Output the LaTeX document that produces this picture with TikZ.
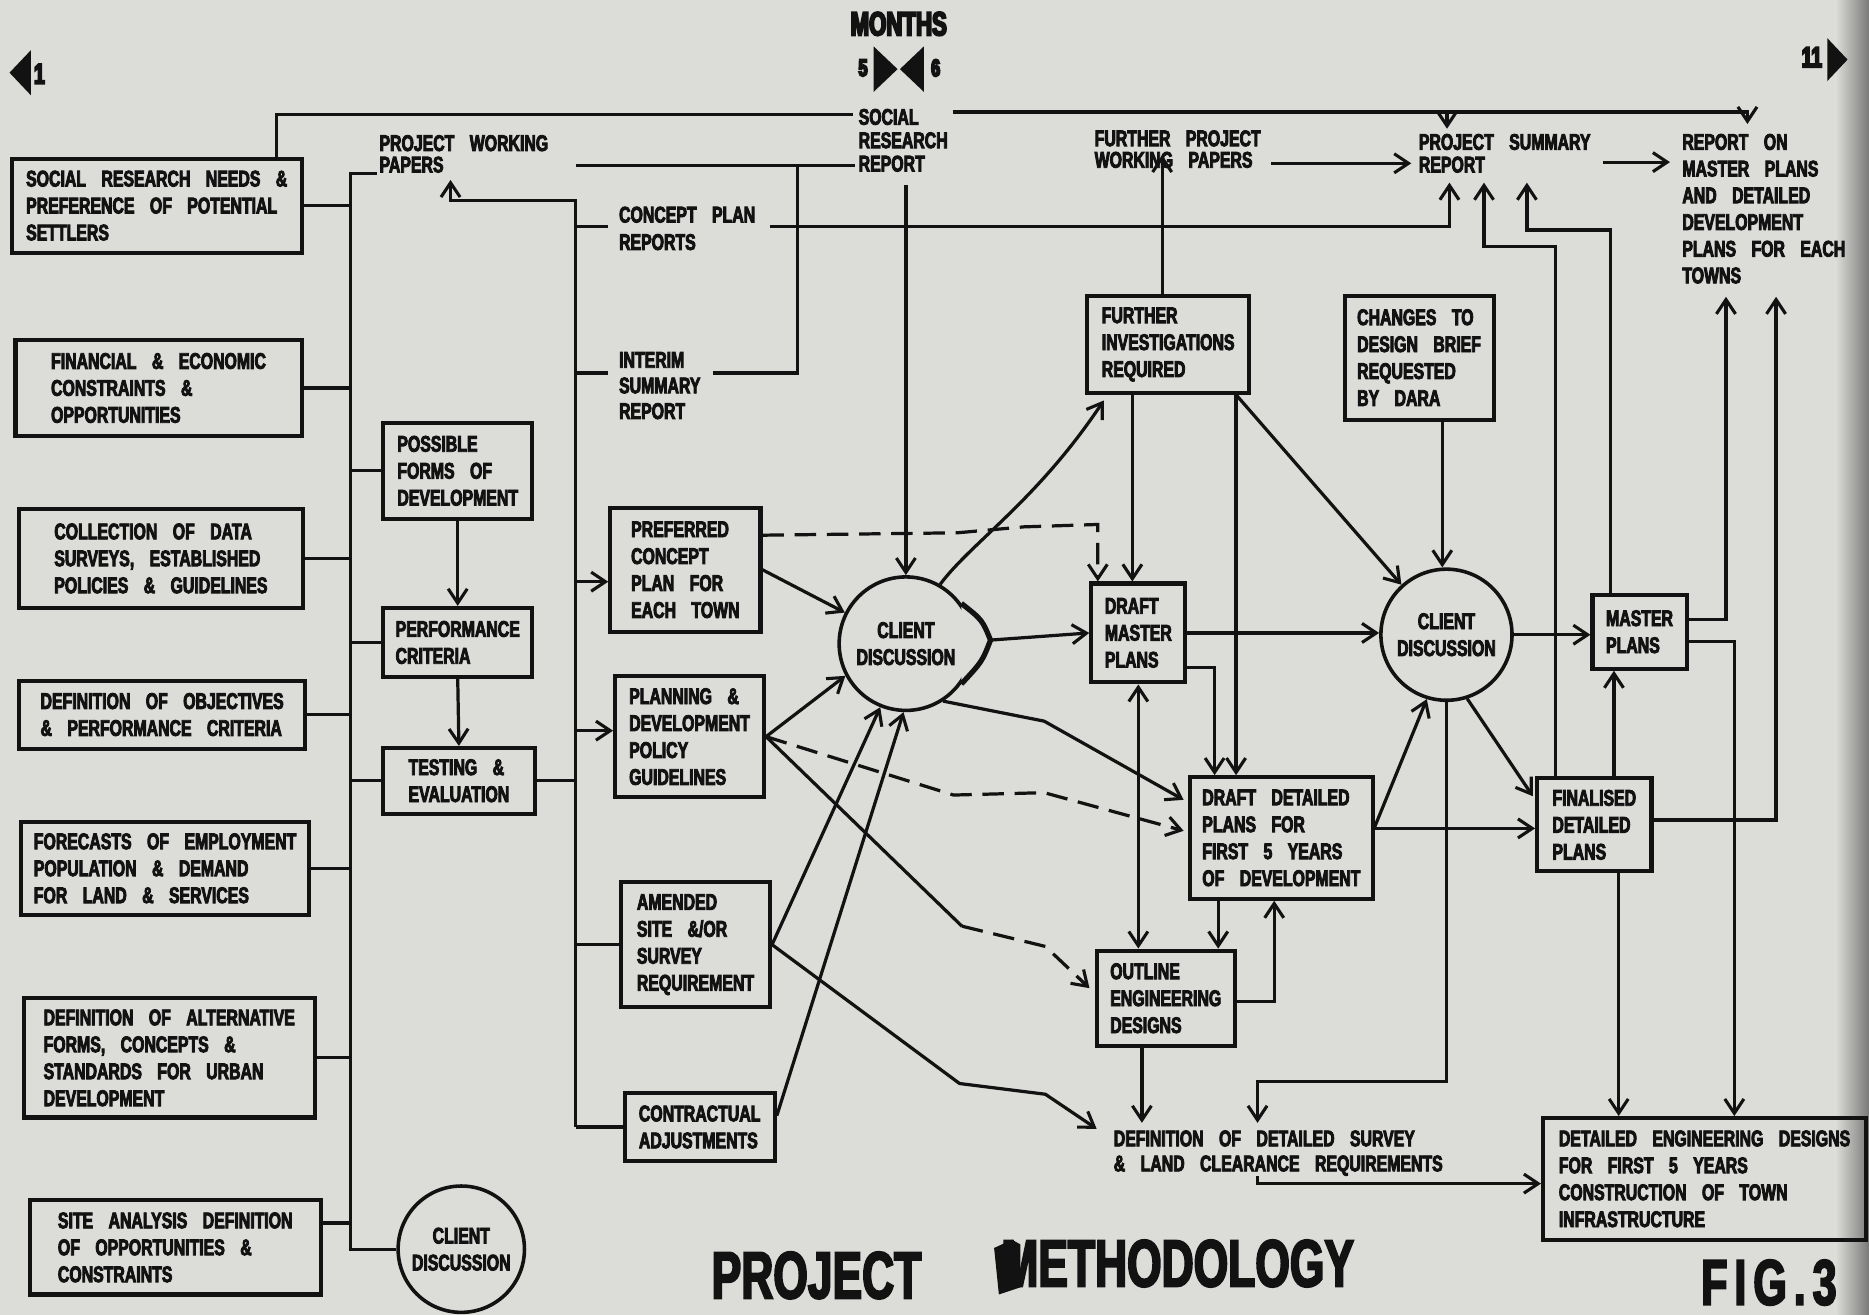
\documentclass[tikz,border=0pt]{standalone}
\usepackage{fontspec}
\usetikzlibrary{arrows.meta}
\newfontfamily\dfont{Liberation Sans Bold}[FakeStretch=0.7, WordSpace=3.5]
\newfontfamily\tfont{Liberation Sans Bold}[FakeStretch=0.665]
\newfontfamily\ffont{Liberation Sans Bold}[FakeStretch=0.665, LetterSpace=11]
\definecolor{paper}{RGB}{220,220,217}
\definecolor{ink}{RGB}{18,18,18}
\newcommand\heavyon[1]{\special{pdf:literal direct 2 Tr #1 w}}
\newcommand\heavyoff{\special{pdf:literal direct 0 Tr}}
\newcommand\mkbox[6]{\node[pbox, minimum width=#4*0.5pt, minimum height=#5*0.5pt] (#1) at (#2,#3) {#6};}
\newcommand\hv[1]{\heavyon{0.35}#1\heavyoff}
\newcommand\hvt[1]{\heavyon{0.8}#1\heavyoff}
\begin{document}
\begin{tikzpicture}[x=0.5pt,y=-0.5pt,
  txt/.style={font=\dfont\fontsize{9.5}{11.3}\selectfont, text=ink},
  pbox/.style={txt, draw=ink, line width=1.7pt, align=left, inner sep=0pt, rectangle},
  lbl/.style={txt, align=left, inner sep=0pt, anchor=north west, font=\dfont\fontsize{9.5}{#1}\selectfont},
  lbl/.default=11.3,
  circ/.style={txt, draw=ink, line width=1.5pt, circle, align=center, inner sep=0pt},
  ln/.style={draw=ink, line width=1.35pt},
  arr/.style={ln, -{Straight Barb[length=6pt,width=8pt,line width=1.3pt]}},
  dbl/.style={ln, {Straight Barb[length=6pt,width=8pt,line width=1.3pt]}-{Straight Barb[length=6pt,width=8pt,line width=1.3pt]}},
  dsh/.style={dash pattern=on 9pt off 4.5pt},
  ttl/.style={font=\tfont\fontsize{#1}{#1}\selectfont, text=ink, inner sep=0pt},
]
\fill[paper] (0,0) rectangle (1568,1103);
\shade[left color=paper, right color=paper!55!black] (1540,0) rectangle (1568,1103);
\useasboundingbox (0,0) rectangle (1568,1103);

% ---------- headings ----------
\node[ttl=14] (months) at (754,20) {\hvt{MONTHS}};
\node[ttl=10] (five) at (724,57) {\hvt{5}};
\node[ttl=10] (six) at (785,57) {\hvt{6}};
\fill[ink] (733,39) -- (753,58) -- (733,77) -- cycle;
\fill[ink] (775,39) -- (755,58) -- (775,77) -- cycle;
\fill[ink] (8,61) -- (26,42) -- (26,80) -- cycle;
\node[ttl=12] (one) at (33,62) {\hvt{1}};
\node[ttl=12] (eleven) at (1520,48) {\hvt{11}};
\fill[ink] (1533,32) -- (1550,50) -- (1533,68) -- cycle;
\node[ttl=28] (ttlA) at (685,1070) {\hvt{PROJECT}};
\node[ttl=28] (ttlB) at (988,1060) {\hvt{METHODOLOGY}};
\fill[ink] (834,1047) -- (849,1040) -- (856,1044) -- (856,1080) -- (838,1086) -- cycle;
\node[font=\ffont\fontsize{27}{27}\selectfont, text=ink, inner sep=0pt] (fig) at (1484,1076) {\hvt{FIG.3}};

% ---------- left column ----------
\mkbox{b1}{131.5}{172.5}{243}{79}{\hv{SOCIAL RESEARCH NEEDS \&}\\\hv{PREFERENCE OF POTENTIAL}\\\hv{SETTLERS}}
\mkbox{b2}{133}{325.5}{240}{81}{\hv{FINANCIAL \& ECONOMIC}\\\hv{CONSTRAINTS \&}\\\hv{OPPORTUNITIES}}
\mkbox{b3}{135}{468.5}{238}{83}{\hv{COLLECTION OF DATA}\\\hv{SURVEYS, ESTABLISHED}\\\hv{POLICIES \& GUIDELINES}}
\mkbox{b4}{136}{599.5}{240}{57}{\hv{DEFINITION OF OBJECTIVES}\\\hv{\& PERFORMANCE CRITERIA}}
\mkbox{b5}{138.5}{728.5}{241}{78}{\hv{FORECASTS OF EMPLOYMENT}\\\hv{POPULATION \& DEMAND}\\\hv{FOR LAND \& SERVICES}}
\mkbox{b6}{142}{887.5}{244}{100}{\hv{DEFINITION OF ALTERNATIVE}\\\hv{FORMS, CONCEPTS \&}\\\hv{STANDARDS FOR URBAN}\\\hv{DEVELOPMENT}}
\mkbox{b7}{147}{1046.5}{244}{79}{\hv{SITE ANALYSIS DEFINITION}\\\hv{OF OPPORTUNITIES \&}\\\hv{CONSTRAINTS}}
\node[circ, minimum size=53pt] (c0) at (387,1048) {\hv{CLIENT}\\\hv{DISCUSSION}};

% ---------- second column ----------
\mkbox{m1}{384}{395}{125}{81}{\hv{POSSIBLE}\\\hv{FORMS OF}\\\hv{DEVELOPMENT}}
\mkbox{m2}{384}{539}{125}{58}{\hv{PERFORMANCE}\\\hv{CRITERIA}}
\mkbox{m3}{385}{655}{127}{55}{\hv{TESTING \&}\\\hv{EVALUATION}}
\node[lbl=9] (pwp) at (318,113) {\hv{PROJECT WORKING}\\\hv{PAPERS}};

% ---------- third column ----------
\node[lbl=11.5] (cpr) at (519,173) {\hv{CONCEPT PLAN}\\\hv{REPORTS}};
\node[lbl=10.75] (isr) at (519,295) {\hv{INTERIM}\\\hv{SUMMARY}\\\hv{REPORT}};
\mkbox{r1}{575}{478}{126}{104}{\hv{PREFERRED}\\\hv{CONCEPT}\\\hv{PLAN FOR}\\\hv{EACH TOWN}}
\mkbox{r2}{578.5}{618}{125}{102}{\hv{PLANNING \&}\\\hv{DEVELOPMENT}\\\hv{POLICY}\\\hv{GUIDELINES}}
\mkbox{r3}{583.5}{792.5}{125}{105}{\hv{AMENDED}\\\hv{SITE \&/OR}\\\hv{SURVEY}\\\hv{REQUIREMENT}}
\mkbox{r4}{587}{945.5}{126}{57}{\hv{CONTRACTUAL}\\\hv{ADJUSTMENTS}}
\node[lbl=9.8] (srr) at (720,91) {\hv{SOCIAL}\\\hv{RESEARCH}\\\hv{REPORT}};
\node[circ, minimum size=56pt] (c1) at (760,540) {\hv{CLIENT}\\\hv{DISCUSSION}};
\coordinate (bulge) at (831,537);
\fill[paper] (c1.36) .. controls (824,520) .. (bulge) .. controls (824,555) .. (c1.-36) -- cycle;
\draw[ink, line width=2.2pt] (c1.36) .. controls (824,520) .. (bulge) .. controls (824,555) .. (c1.-36);

% ---------- right part ----------
\node[lbl=9] (fpwp) at (918,109) {\hv{FURTHER PROJECT}\\\hv{WORKING PAPERS}};
\node[lbl=9.5] (psr) at (1190,112) {\hv{PROJECT SUMMARY}\\\hv{REPORT}};
\node[lbl=11.2] (rom) at (1411,112) {\hv{REPORT ON}\\\hv{MASTER PLANS}\\\hv{AND DETAILED}\\\hv{DEVELOPMENT}\\\hv{PLANS FOR EACH}\\\hv{TOWNS}};
\mkbox{f1}{980}{289}{136}{81}{\hv{FURTHER}\\\hv{INVESTIGATIONS}\\\hv{REQUIRED}}
\mkbox{f2}{1190.5}{300}{125}{104}{\hv{CHANGES TO}\\\hv{DESIGN BRIEF}\\\hv{REQUESTED}\\\hv{BY DARA}}
\mkbox{dm}{955}{531}{79}{83}{\hv{DRAFT}\\\hv{MASTER}\\\hv{PLANS}}
\mkbox{dd}{1075}{703}{153}{102}{\hv{DRAFT DETAILED}\\\hv{PLANS FOR}\\\hv{FIRST 5 YEARS}\\\hv{OF DEVELOPMENT}}
\mkbox{oe}{978}{837.5}{116}{80}{\hv{OUTLINE}\\\hv{ENGINEERING}\\\hv{DESIGNS}}
\node[circ, minimum size=55pt] (c2) at (1213.5,532.5) {\hv{CLIENT}\\\hv{DISCUSSION}};
\mkbox{mp}{1375.5}{530}{79}{62}{\hv{MASTER}\\\hv{PLANS}}
\mkbox{fd}{1337.5}{692}{96}{78}{\hv{FINALISED}\\\hv{DETAILED}\\\hv{PLANS}}
\mkbox{de}{1430}{989}{271}{102}{\hv{DETAILED ENGINEERING DESIGNS}\\\hv{FOR FIRST 5 YEARS}\\\hv{CONSTRUCTION OF TOWN}\\\hv{INFRASTRUCTURE}}
\node[lbl=10.5] (def) at (934,948) {\hv{DEFINITION OF DETAILED SURVEY}\\\hv{\& LAND CLEARANCE REQUIREMENTS}};

% ---------- trunk 1 ----------
\coordinate (T1) at (294,0);
\coordinate (T2) at (483,0);
\draw[ln] ([xshift=-1pt]pwp.south west) -- (T1 |- pwp.south west) -- (T1 |- c0.west) -- (c0.west);
\foreach \n in {b1,b2,b3,b4,b5,b6} \draw[ln] (\n.east) -- (T1 |- \n.east);
\draw[ln] (b7.east |- 0,1026) -- (T1 |- 0,1026);
\foreach \n in {m1,m2,m3} \draw[ln] (T1 |- \n.west) -- (\n.west);
\draw[arr] (m1.south) -- (m2.north);
\draw[arr] (m2.south) -- (m3.north);
\draw[ln] (m3.east) -- (T2 |- m3.east);

% ---------- trunk 2 ----------
\coordinate (pwpIn) at (378,151);
\draw[arr] (T2 |- r4.west) -- (T2 |- 0,168) -| (pwpIn);
\draw[ln] (T2 |- 0,190) -- ([xshift=-4.5pt]cpr.west |- 0,190);
\draw[ln] (T2 |- 0,313) -- ([xshift=-4.5pt]isr.west |- 0,313);
\draw[arr] (T2 |- 0,488) -- (r1.west |- 0,488);
\draw[arr] (T2 |- 0,613) -- (r2.west |- 0,613);
\draw[ln] (T2 |- r3.west) -- (r3.west);
\draw[ln] (T2 |- r4.west) -- (r4.west);
\draw[ln] (T2 |- 0,139) -- ([xshift=-1.5pt]srr.west |- 0,139);
\draw[ln] ([xshift=5pt]isr.east |- 0,313) -| (669,139);

% ---------- top report lines ----------
\draw[ln] (b1.north -| 232,0) |- ([xshift=-2pt]srr.west |- 0,96);
\draw[arr] ([xshift=2pt]srr.north east |- 0,94) -| ([yshift=4pt]rom.north west -| 1466,0);
\draw[arr] (1214,94) -- ([yshift=2pt]psr.north west -| 1214,0);
\draw[arr] ([xshift=6pt]cpr.east |- 0,190) -| ([yshift=-4pt]psr.south west -| 1216,0);
\draw[arr] (c1.north |- 0,155) -- (c1.north);
\draw[arr] ([xshift=4pt]fpwp.east |- 0,137) -- ([xshift=-3pt]psr.west |- 0,137);
\draw[arr] ([xshift=5pt]psr.east |- 0,136) -- ([xshift=-5pt]rom.west |- 0,136);
\draw[arr] (f1.north -| 975,0) -- (975,130);
\draw[arr] (fd.north -| 1305,0) |- (1245,207) -- ([yshift=-4pt]psr.south west -| 1245,0);
\draw[arr] (mp.north -| 1351,0) |- (1281,193) -- ([yshift=-4pt]psr.south west -| 1281,0);
\draw[arr] (mp.east |- 0,520) -| (1448,249);
\draw[arr] (mp.east |- 0,538) -| (de.north -| 1455,0);
\draw[arr] (fd.east |- 0,688) -| (1490,249);

% ---------- right network ----------
\draw[arr] (fd.south -| 1358,0) -- (de.north -| 1358,0);
\draw[arr] (fd.north -| 1354,0) -- (mp.south -| 1354,0);
\draw[arr] (c2.east) -- (mp.west |- c2.east);
\draw[arr] (c2.-72) -- (1286,668);
\draw[arr] (c2.south) |- (1055,907) -- ([yshift=3pt]def.north west -| 1055,0);
\draw[arr] (dd.east |- 0,695) -- (fd.west |- 0,695);
\draw[arr] (dd.east |- 0,694) -- (c2.253);
\draw[arr] (dm.east) -- (c2.west |- dm.east);
\draw[arr] (dm.east |- 0,560) -| (dd.north -| 1019,0);
\draw[arr] (f1.south -| 1037,0) -- (dd.north -| 1037,0);
\draw[arr] (f1.south -| 1037,0) -- (c2.132);
\draw[arr] (f1.south -| 950,0) -- (dm.north -| 950,0);
\draw[arr] (f2.south -| 1210,0) -- (c2.north -| 1210,0);
\draw[dbl] (dm.south -| 955,0) -- (oe.north -| 955,0);
\draw[arr] (dd.south -| 1022,0) -- (oe.north -| 1022,0);
\draw[arr] (oe.east |- 0,840) -| (dd.south -| 1069,0);
\draw[arr] (oe.south -| 958,0) -- ([yshift=3pt]def.north west -| 958,0);
\draw[arr] (def.south west -| 1055,0) |- (de.west |- 0,993);

% ---------- client discussion 1 links ----------
\draw[arr] (c1.60) .. controls (815,455) and (870,420) .. (926,336);
\draw[arr] (bulge) -- (dm.west);
\draw[arr] (c1.-57) -- (876,605) -- (993,671);
\draw[arr] (r1.east) -- (c1.153);
\draw[arr] (r2.east) -- (c1.208);
\draw[arr] (r3.east) -- (c1.248);
\draw[arr] (r4.east |- 0,936) -- (c1.268);
\draw[arr] (r3.east) -- (805,909) -- (877,918) -- (920,947);
\draw[arr, dsh] (r2.east) -- (800,667) -- (876,665) -- (993,697);
\draw[ln] (r2.east) -- (807,777);
\draw[arr, dsh] (807,777) -- (877,794) -- (914,829);
\draw[arr, dsh] (r1.east |- 0,449) -- (803,447) -- (859,442) -- (921,440) -- (dm.north -| 921,0);
\end{tikzpicture}
\end{document}
